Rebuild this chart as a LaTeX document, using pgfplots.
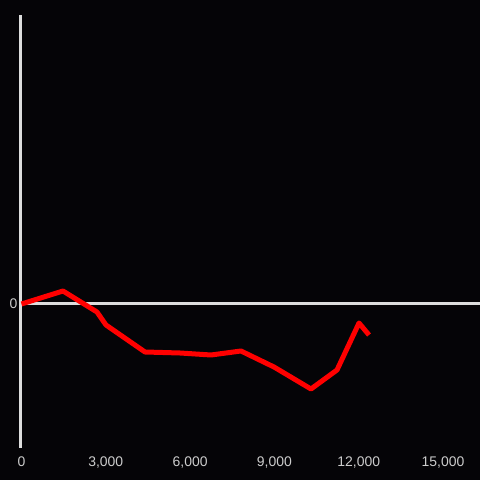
\documentclass[border=0pt]{standalone}
\usepackage{pgfplots}
\pgfplotsset{compat=1.18}
\usepackage{fontspec}
\setmainfont{Liberation Sans}
\definecolor{bg}{HTML}{050407}
\definecolor{axc}{HTML}{DDDDDD}
\definecolor{tc}{HTML}{CCCCCC}
\begin{document}
\begin{tikzpicture}[x=1bp,y=1bp]
\fill[bg] (0,0) rectangle (480,480);
\useasboundingbox (0,0) rectangle (480,480);
\begin{axis}[
  at={(20bp,32bp)}, anchor=south west,
  scale only axis, width=460bp, height=433bp,
  xmin=-53, xmax=16317, ymin=-144, ymax=289,
  axis lines*=left,
  x axis line style={draw=none},
  y axis line style={axc, line width=3bp, -},
  scaled x ticks=false, scaled y ticks=false,
  ytick={0}, yticklabels={0},
  xtick={0,3000,6000,9000,12000,15000},
  xticklabels={0,{3,000},{6,000},{9,000},{12,000},{15,000}},
  ticklabel style={font=\fontsize{14}{16}\selectfont, text=tc},
  yticklabel style={xshift=1bp},
  xticklabel style={yshift=-5bp},
  major tick length=0pt,
  clip=false,
]
\draw[axc, line width=3bp] (axis cs:-53,0) -- (axis cs:16317,0);
\addplot[red, line width=5bp, line join=round] coordinates {
(0,0) (1477,13) (2687,-8) (3007,-21) (4395,-48) (5641,-49) (6744,-51) (7811,-47) (8986,-63) (10302,-85) (11228,-66) (12011,-19) (12367,-31)
};
\end{axis}
\end{tikzpicture}
\end{document}
